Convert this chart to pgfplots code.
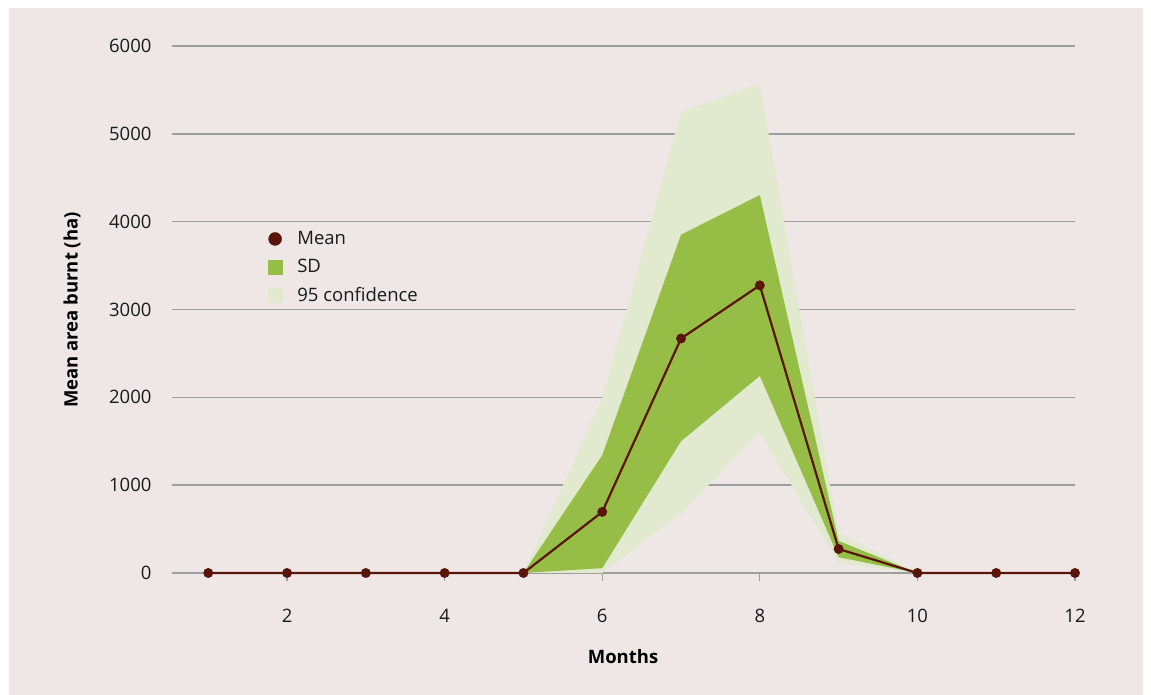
\documentclass[border=0pt]{standalone}
\usepackage{pgfplots}
\pgfplotsset{compat=1.18}
\usepackage{fontspec}
\setmainfont{Open Sans}
\definecolor{bg}{HTML}{EFE7E6}
\definecolor{sdgreen}{HTML}{96BE46}
\definecolor{cilight}{HTML}{E1EACF}
\definecolor{meanred}{HTML}{5A150B}
\definecolor{gridgray}{HTML}{9E9E9E}
\definecolor{txt}{HTML}{1A1A1A}
\begin{document}
\begin{tikzpicture}
\fill[white] (0,0) rectangle (1151pt,695pt);
\fill[bg] (9pt,0) rectangle (1143pt,687pt);
\useasboundingbox (0,0) rectangle (1151pt,695pt);
\begin{axis}[
  at={(172pt,122pt)}, anchor=south west,
  width=903pt, height=527pt, scale only axis,
  xmin=0.54, xmax=12, ymin=0, ymax=6000,
  clip=false,
  axis x line*=bottom, axis y line*=left,
  x axis line style={draw=gridgray, line width=2pt},
  y axis line style={draw=none},
  xtick={2,4,...,12}, ytick={0,1000,...,6000},
  xtick style={draw=gridgray, line width=1.2pt},
  ytick style={draw=none},
  tick align=outside, major tick length=8pt,
  ymajorgrids, grid style={gridgray, line width=1.4pt},
  /pgf/number format/assume math mode=true,
  /pgf/number format/set thousands separator={},
  tick label style={font=\fontsize{18.5}{22}\selectfont, text=txt},
  yticklabel style={xshift=-9pt},
  xticklabel style={yshift=-25pt},
  xlabel={\textbf{Months}},
  ylabel={\textbf{Mean area burnt (ha)}},
  label style={font=\fontsize{18.5}{22}\selectfont, text=black},
  xlabel style={at={(axis description cs:0.4995,-0.159)}, anchor=center},
  ylabel style={at={(axis description cs:-0.1107,0.499)}, anchor=center},
  legend style={at={(axis description cs:0.106,0.652)}, anchor=north west,
    draw=none, fill=none, font=\fontsize{18.5}{22}\selectfont, text=txt,
    row sep=9pt, inner sep=0pt},
  legend cell align=left,
]
% 95 confidence band: upper (5..10) then lower (10..5)
\addplot[fill=cilight, draw=none, forget plot] coordinates {(5,0)(6,1990)(7,5256)(8,5569)(9,450)(10,0)(9,110)(8,1597)(7,682)(6,0)} -- cycle;
% SD band
\addplot[fill=sdgreen, draw=none, forget plot] coordinates {(5,0)(6,1341)(7,3852)(8,4303)(9,365)(10,0)(9,180)(8,2244)(7,1500)(6,55)} -- cycle;
% Mean
\addplot[meanred, line width=2.2pt, mark=*, mark size=3.8pt, forget plot] coordinates {(1,0)(2,0)(3,0)(4,0)(5,0)(6,695)(7,2670)(8,3275)(9,273)(10,0)(11,0)(12,0)};
\addlegendimage{legend image code/.code={\fill[meanred] (7pt,0pt) circle (6.5pt);}}
\addlegendentry{\hspace{13pt}Mean}
\addlegendimage{legend image code/.code={\fill[sdgreen] (0pt,-7pt) rectangle (14pt,7pt);}}
\addlegendentry{\hspace{13pt}SD}
\addlegendimage{legend image code/.code={\fill[cilight] (0pt,-7pt) rectangle (14pt,7pt);}}
\addlegendentry{\hspace{13pt}95 confidence}
\end{axis}
\end{tikzpicture}
\end{document}
